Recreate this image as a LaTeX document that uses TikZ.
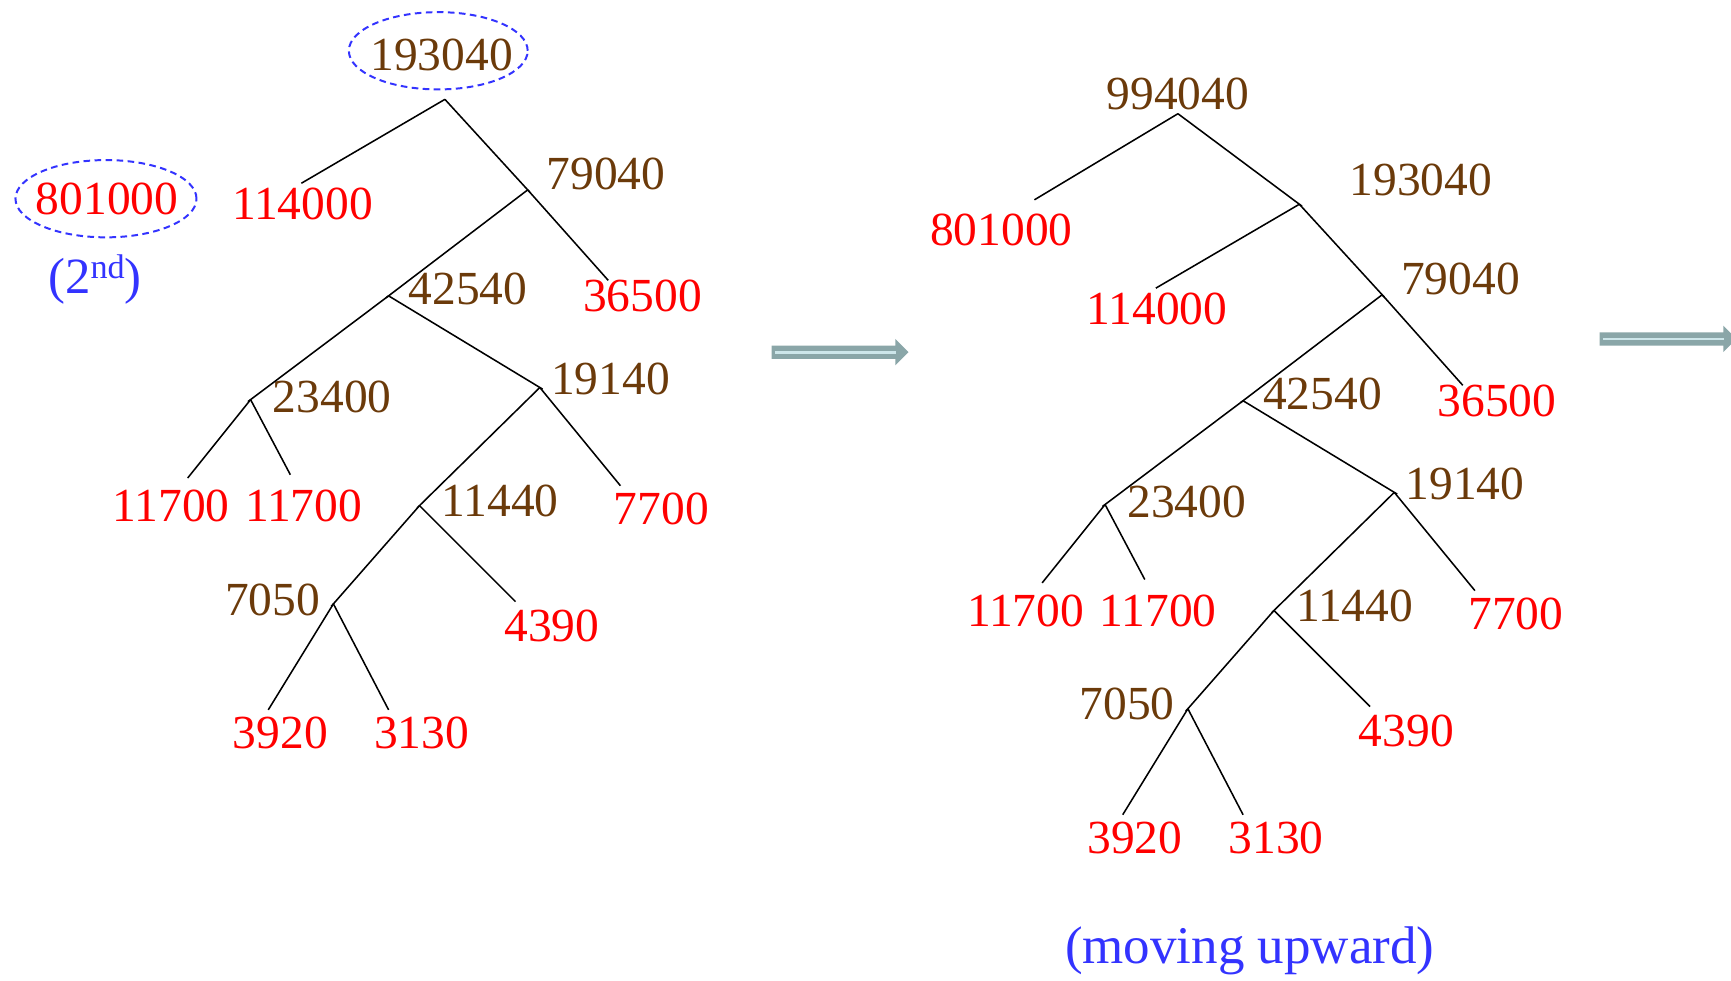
\documentclass[tikz,border=0pt]{standalone}
\usepackage{fontspec}
\usetikzlibrary{shapes.geometric}
\setmainfont{Liberation Serif}
\definecolor{nbrown}{RGB}{107,58,10}
\definecolor{nred}{RGB}{255,0,0}
\definecolor{nblue}{RGB}{51,51,255}
\definecolor{arrgray}{RGB}{138,166,168}
\definecolor{arrlight}{RGB}{205,230,234}
\tikzset{
  num/.style={font=\fontsize{43}{50}\selectfont, inner sep=1pt},
  innum/.style={num, text=nbrown},
  leafnum/.style={num, text=nred},
  edgeline/.style={draw=black, line width=1.4pt},
  jedge/.style={edgeline, shorten >=-3pt},
  dashring/.style={draw=nblue, dashed, dash pattern=on 6pt off 4pt, line width=1.8pt, ellipse},
  note/.style={text=nblue, inner sep=1pt},
  fatarrow/.style={fill=arrgray, draw=none},
  fatarrowcore/.style={draw=arrlight, line width=2.5pt}
}
\newcommand\HuffSubtree{%
  \coordinate (j193) at (403,90);
  \coordinate (j790) at (478,172);
  \coordinate (j425) at (352,268);
  \coordinate (j234) at (227,362);
  \coordinate (j191) at (489,351);
  \coordinate (j114) at (380,458);
  \coordinate (j705) at (302,547);
  \coordinate (e114) at (273,166);
  \coordinate (e365) at (551,254);
  \coordinate (e117a) at (170,433);
  \coordinate (e117b) at (263,430);
  \coordinate (e77) at (562,440);
  \coordinate (e439) at (467,545);
  \coordinate (e392) at (243,643);
  \coordinate (e313) at (352,643);
  \node[leafnum] (t114) at (274,185) {114000};
  \node[innum] (t790) at (549,158) {79040};
  \node[leafnum] (t365) at (582,268) {36500};
  \node[innum] (t425) at (424,262) {42540};
  \node[innum] (t234) at (301,360) {23400};
  \node[innum] (t191) at (553,343) {19140};
  \node[leafnum] (t117a) at (155,458) {11700};
  \node[leafnum] (t117b) at (275,458) {11700};
  \node[leafnum] (t77) at (599,461) {7700};
  \node[innum] (t1144) at (453,454) {11440};
  \node[leafnum] (t439) at (500,567) {4390};
  \node[innum] (t705) at (247,543) {7050};
  \node[leafnum] (t392) at (254,664) {3920};
  \node[leafnum] (t313) at (382,664) {3130};
  \draw[edgeline] (j193) -- (e114);
  \draw[jedge] (j193) -- (j790);
  \draw[edgeline] (j790) -- (e365);
  \draw[jedge] (j790) -- (j425);
  \draw[jedge] (j425) -- (j234);
  \draw[jedge] (j425) -- (j191);
  \draw[edgeline] (j234) -- (e117a);
  \draw[edgeline] (j234) -- (e117b);
  \draw[edgeline] (j191) -- (e77);
  \draw[jedge] (j191) -- (j114);
  \draw[edgeline] (j114) -- (e439);
  \draw[jedge] (j114) -- (j705);
  \draw[edgeline] (j705) -- (e392);
  \draw[edgeline] (j705) -- (e313);
}
\begin{document}
\begin{tikzpicture}[x=1pt, y=-1pt]
\useasboundingbox (0,0) rectangle (1568,888);
\clip (0,0) rectangle (1568,888);
% left tree
\begin{scope}[name prefix=L-]
  \HuffSubtree
  \node[innum] (t193) at (400,50) {193040};
  \node[dashring, minimum width=162pt, minimum height=70pt] (r193) at (397,46) {};
\end{scope}
\node[leafnum] (L-t801) at (97,180) {801000};
\node[dashring, minimum width=164pt, minimum height=70pt] (L-r801) at (96,180) {};
\node[note, font=\fontsize{46}{50}\selectfont] (second) at (86,253) {(2\raisebox{14pt}{\fontsize{31}{31}\selectfont nd})};
% arrows
\fill[fatarrow] (699,313) -- (811,313) -- (811,307) -- (823,319) -- (811,331) -- (811,325) -- (699,325) -- cycle;
\draw[fatarrowcore] (702,319) -- (812,319);
\fill[fatarrow] (1449,301) -- (1561,301) -- (1561,295) -- (1573,307) -- (1561,319) -- (1561,313) -- (1449,313) -- cycle;
\draw[fatarrowcore] (1452,307) -- (1562,307);
% right tree
\begin{scope}[shift={(774,95)}, name prefix=R-]
  \HuffSubtree
\end{scope}
\coordinate (R-j994) at (1067,103);
\coordinate (R-e801) at (937,181);
\node[innum] (R-t994) at (1067,85) {994040};
\node[leafnum] (R-t801) at (907,208) {801000};
\node[innum] (R-t193) at (1287,163) {193040};
\draw[edgeline] (R-j994) -- (R-e801);
\draw[jedge] (R-j994) -- (R-j193);
\node[note, font=\fontsize{48}{52}\selectfont] (moving) at (1132,861) {(moving upward)};
\end{tikzpicture}
\end{document}
